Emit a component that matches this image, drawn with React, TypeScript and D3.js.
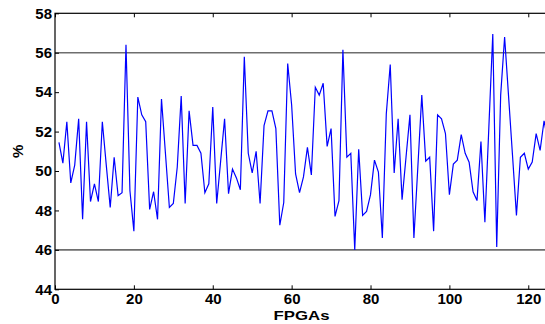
import React, { useEffect, useRef } from "react";
import * as d3 from "d3";

// percentage per FPGA, index 1..125
const values: number[] = [
  51.45, 50.4, 52.5, 49.4, 50.3, 52.65, 47.55, 52.5, 48.45, 49.35,
  48.45, 52.5, 50.3, 48.15, 50.7, 48.75, 48.9, 56.4, 49.0, 46.95,
  53.75, 52.85, 52.5, 48.05, 48.95, 47.55, 53.65, 50.9, 48.15, 48.35,
  50.2, 53.8, 48.35, 53.05, 51.3, 51.3, 50.9, 48.9, 49.35, 53.25,
  48.35, 50.5, 52.65, 48.85, 50.1, 49.65, 49.05, 55.8, 50.9, 49.9,
  51.0, 48.35, 52.3, 53.05, 53.05, 52.15, 47.25, 48.4, 55.45, 53.35,
  49.85, 48.9, 49.7, 51.2, 49.8, 54.25, 53.85, 54.45, 51.25, 52.15,
  47.7, 48.5, 56.15, 50.7, 50.9, 46.0, 51.1, 47.75, 47.95, 48.8,
  50.55, 49.95, 46.6, 52.9, 55.4, 49.9, 52.65, 48.55, 50.7, 52.85,
  46.6, 50.2, 53.85, 50.5, 50.7, 46.95, 52.85, 52.65, 51.9, 48.8,
  50.35, 50.55, 51.85, 50.9, 50.45, 48.95, 48.5, 51.5, 47.4, 52.2,
  56.95, 46.15, 53.85, 56.8, 53.8, 50.8, 47.75, 50.7, 50.9, 50.1,
  50.45, 51.9, 51.05, 52.55, 51.5,
];

const xTicks = [0, 20, 40, 60, 80, 100, 120];
const yTicks = [44, 46, 48, 50, 52, 54, 56, 58];
const refLines = [46, 56];

const W = 545;
const H = 324;
const margin = { top: 13.3, left: 55, right: 548, bottom: 289.3 };

export default function App() {
  const ref = useRef<SVGSVGElement | null>(null);

  useEffect(() => {
    if (!ref.current) return;
    const svg = d3.select(ref.current);
    svg.selectAll("*").remove();

    const x = d3.scaleLinear().domain([0, 125]).range([margin.left, margin.right]);
    const y = d3.scaleLinear().domain([44, 58]).range([margin.bottom, margin.top]);

    const font = "'Liberation Sans', Arial, Helvetica, sans-serif";

    svg
      .append("defs")
      .append("clipPath")
      .attr("id", "plotclip")
      .append("rect")
      .attr("x", margin.left)
      .attr("y", margin.top)
      .attr("width", margin.right - margin.left)
      .attr("height", margin.bottom - margin.top);

    // grey reference lines
    svg
      .selectAll(".ref")
      .data(refLines)
      .join("line")
      .attr("x1", margin.left)
      .attr("x2", margin.right)
      .attr("y1", (d) => y(d))
      .attr("y2", (d) => y(d))
      .attr("stroke", "#6e6e6e")
      .attr("stroke-width", 1.6);

    // data line
    const line = d3
      .line<number>()
      .x((_, i) => x(i + 1))
      .y((d) => y(d));

    svg
      .append("path")
      .datum(values)
      .attr("clip-path", "url(#plotclip)")
      .attr("fill", "none")
      .attr("stroke", "#0000ff")
      .attr("stroke-width", 1.2)
      .attr("d", line);

    // box
    svg
      .append("rect")
      .attr("x", margin.left)
      .attr("y", margin.top)
      .attr("width", margin.right - margin.left)
      .attr("height", margin.bottom - margin.top)
      .attr("fill", "none")
      .attr("stroke", "#000")
      .attr("stroke-width", 1.2);

    // bottom axis (ticks inward)
    const bottom = svg
      .append("g")
      .attr("transform", `translate(0,${margin.bottom})`)
      .call(d3.axisBottom(x).tickValues(xTicks).tickSizeInner(-4).tickSizeOuter(0).tickPadding(4));
    bottom.select(".domain").remove();
    bottom.selectAll("text").attr("font-family", font).attr("font-weight", "bold").attr("font-size", 15).attr("fill", "#000");

    // top ticks
    const top = svg
      .append("g")
      .attr("transform", `translate(0,${margin.top})`)
      .call(d3.axisTop(x).tickValues(xTicks).tickSizeInner(-4).tickSizeOuter(0).tickFormat(() => ""));
    top.select(".domain").remove();

    // left axis
    const left = svg
      .append("g")
      .attr("transform", `translate(${margin.left},0)`)
      .call(d3.axisLeft(y).tickValues(yTicks).tickSizeInner(-4).tickSizeOuter(0).tickPadding(3));
    left.select(".domain").remove();
    left.selectAll("text").attr("font-family", font).attr("font-weight", "bold").attr("font-size", 15).attr("fill", "#000");

    // labels
    svg
      .append("text")
      .attr("x", (margin.left + margin.right) / 2)
      .attr("y", 320)
      .attr("text-anchor", "middle")
      .attr("font-family", font)
      .attr("font-weight", "bold")
      .attr("font-size", 13.5)
      .attr("textLength", 56)
      .attr("lengthAdjust", "spacingAndGlyphs")
      .text("FPGAs");

    svg
      .append("text")
      .attr("transform", `translate(23,${(margin.top + margin.bottom) / 2}) rotate(-90)`)
      .attr("text-anchor", "middle")
      .attr("font-family", font)
      .attr("font-weight", "bold")
      .attr("font-size", 15)
      .text("%");
  }, []);

  return (
    <svg
      ref={ref}
      width={W}
      height={H}
      style={{ position: "absolute", left: 0, top: 0, background: "#fff" }}
    />
  );
}
